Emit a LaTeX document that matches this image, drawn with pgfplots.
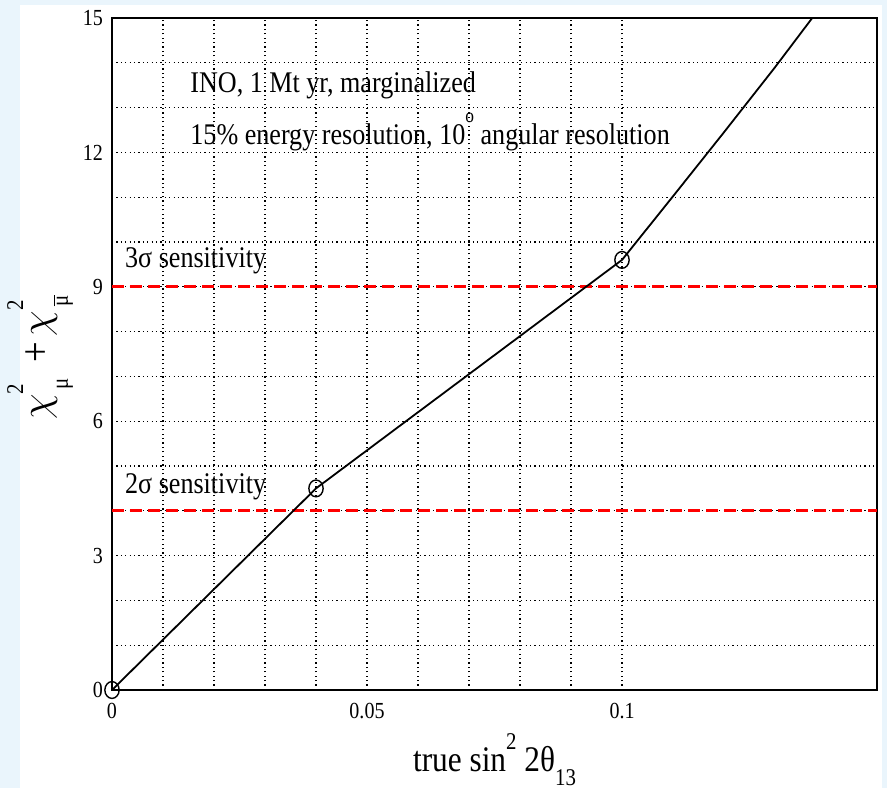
\documentclass[border=0pt]{standalone}
\usepackage{fontspec}
\setmainfont{Liberation Serif}[FakeStretch=0.87]
\usepackage{pgfplots}
\pgfplotsset{compat=1.18}
\definecolor{bgblue}{RGB}{234,245,252}
\newcommand\supr[1]{\raisebox{0.62em}{\fontsize{12}{12}\selectfont #1}}
\newcommand\subr[1]{\raisebox{-0.38em}{\fontsize{12}{12}\selectfont #1}}
\newcommand\ysup[1]{\raisebox{0.62em}{\fontsize{12}{12}\selectfont #1}}
\newcommand\ysub[1]{\raisebox{-0.45em}{\fontsize{12}{12}\selectfont #1}}
\begin{document}
\begin{tikzpicture}
\useasboundingbox (-56pt,-49pt) rectangle (387.5pt,345pt);
\fill[bgblue] (-56pt,-49pt) rectangle (387.5pt,345pt);
\fill[white] (-46pt,-49pt) rectangle (385pt,342.5pt);
\begin{axis}[
  at={(0pt,0pt)}, anchor=south west,
  scale only axis, width=382.5pt, height=336pt,
  xmin=0, xmax=0.15, ymin=0, ymax=15,
  xtick={0,0.05,0.1}, xticklabels={0,0.05,0.1},
  scaled x ticks=false,
  ytick={0,3,6,9,12,15},
  minor x tick num=4, minor y tick num=2,
  grid=both,
  major grid style={black, line width=0.6pt, dash pattern=on 0.6pt off 1.6pt},
  minor grid style={black, line width=0.6pt, dash pattern=on 0.6pt off 1.6pt},
  major tick length=0pt, minor tick length=0pt,
  axis line style={line width=1pt},
  tick label style={font=\fontsize{11.5}{13}\selectfont},
  /pgf/number format/assume math mode=true,
  xticklabel style={yshift=-3pt},
  yticklabel style={xshift=-1pt},
  clip=false,
  xlabel={true sin\supr{2} 2θ\subr{13}},
  xlabel style={font=\fontsize{18}{20}\selectfont, at={(axis description cs:0.5,-0.121)}, anchor=base},
  ylabel={$\chi$\rlap{\ysup{2}}\hspace{0.1em}\ysub{μ}\hspace{8pt}{\fontsize{21}{21}\selectfont+}\hspace{3pt}$\chi$\rlap{\ysup{2}}\hspace{0.1em}\ysub{$\overline{\hbox{μ}}$}},
  ylabel style={font=\fontsize{21}{23}\selectfont, at={(axis description cs:-0.094,0.495)}, anchor=center},
]
\addplot[red, line width=1.4pt, dash pattern=on 6pt off 3pt] coordinates {(0,9) (0.15,9)};
\addplot[red, line width=1.4pt, dash pattern=on 6pt off 3pt] coordinates {(0,4) (0.15,4)};
\addplot[black, line width=0.9pt, mark=none] coordinates {
(0,0) (0.04,4.5) (0.1,9.6) (0.11,11.02) (0.12,12.45) (0.13,13.9) (0.1373,15)};
\addplot[black, line width=0.7pt, only marks, mark=o, mark size=4.2pt, mark options={xscale=0.85}] coordinates {
(0,0) (0.04,4.5) (0.1,9.6)};
\node[anchor=west, inner sep=0pt, font=\fontsize{15}{18}\selectfont] at (axis cs:0.0153,13.5) {INO, 1 Mt yr, marginalized};
\node[anchor=west, inner sep=0pt, font=\fontsize{15}{18}\selectfont] at (axis cs:0.0153,12.45) {15\% energy resolution, 10\raisebox{0.75em}{\fontsize{10}{10}\selectfont o} angular resolution};
\node[anchor=west, inner sep=0pt, font=\fontsize{15}{17}\selectfont] at (axis cs:0.0025,9.58) {3σ sensitivity};
\node[anchor=west, inner sep=0pt, font=\fontsize{15}{17}\selectfont] at (axis cs:0.0025,4.53) {2σ sensitivity};
\end{axis}
\end{tikzpicture}
\end{document}
